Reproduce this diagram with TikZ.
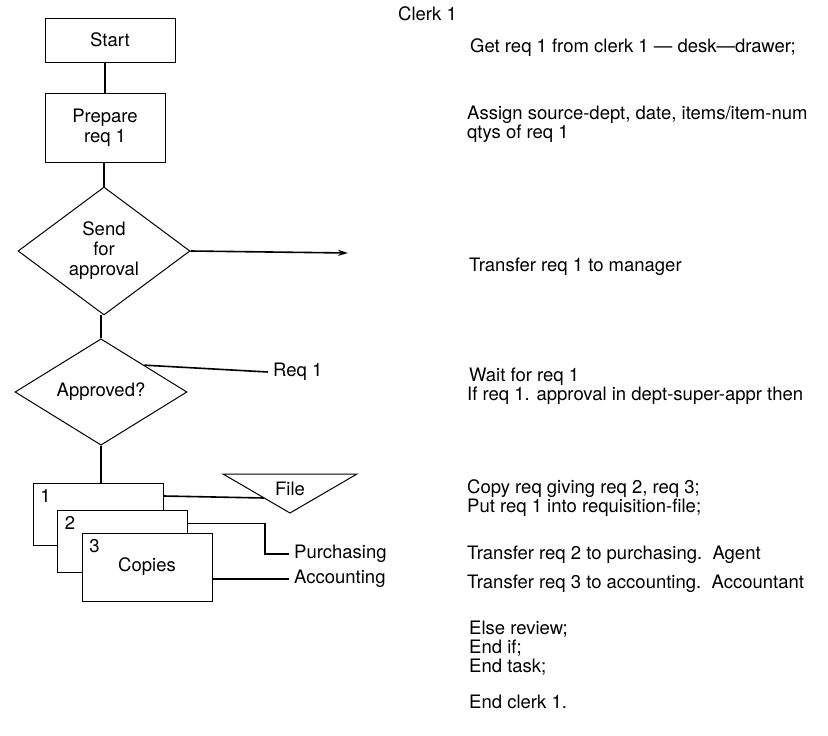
\documentclass[tikz,border=0pt]{standalone}
\usepackage{fontspec}
\setmainfont{TeX Gyre Heros}
\usetikzlibrary{positioning, shapes.geometric, arrows.meta}

\begin{document}
\begin{tikzpicture}[
    x = 1pt, y = -1pt,
    font = \fontsize{18.5pt}{20pt}\selectfont,
    box/.style = {rectangle, draw, line width=1pt, align=center, inner sep=0pt},
    decision/.style = {diamond, draw, line width=1pt, align=center, inner sep=0pt, minimum width=172pt, minimum height=102pt},
    copy/.style = {rectangle, draw, line width=1pt, fill=white, minimum width=130pt, minimum height=62pt, inner sep=0pt},
    tag/.style = {anchor=center, inner sep=0pt},
    dest/.style = {anchor=west, inner sep=5pt},
    stmt/.style = {anchor=base west, inner sep=0pt},
    link/.style = {line width=1.6pt}
]
\useasboundingbox (0,0) rectangle (828,736);

% Clerk 1 flow chart
    \node[box, minimum width=130pt, minimum height=44pt] (start) at (110,40) {Start};
    \node[box, minimum width=120pt, minimum height=69pt] (prep) at (105,128) {Prepare\\req 1};
    \node[decision] (send) at (104,251) {Send\\for\\approval};
    \coordinate (mgr) at (348,253);
    \node[decision] (appr) at (101,392) {Approved?};
    \node[dest] (req1) at (268,372) {Req 1};

% Copies
    \node[copy, label={[tag, xshift=13pt, yshift=-13pt]north west:1}] (card1) at (98,514.5) {};
    \node[copy, label={[tag, xshift=13pt, yshift=-13pt]north west:2}] (card2) at (122.5,541) {};
    \node[copy, minimum height=68pt, label={[tag, xshift=13pt, yshift=-14pt]north west:3}] (card3) at (147,567) {Copies};

% File
    \coordinate (fileA) at (223,474);
    \coordinate (fileB) at (357,474);
    \coordinate (fileC) at (290,513);
    \coordinate (filein) at (264,498);
    \draw[line width=1pt] (fileA) -- (fileB) -- (fileC) -- cycle;
    \node[tag] (file) at (290,489) {File};
    \node[dest] (purch) at (289,554) {Purchasing};
    \node[dest] (acct) at (289,579) {Accounting};

% Connectors
    \draw[link] (prep.north) -- (prep.north |- start.south);
    \draw[link] (send.north) -- (send.north |- prep.south);
    \draw[link, -{Stealth[length=10pt, width=6pt]}] (send.east) -- (mgr);
    \draw[link] (appr.north) -- (appr.north |- send.south);
    \draw[link] (appr.north east) -- (req1.west);
    \draw[link] (appr.south) -- (appr.south |- card1.north);
    \draw[link] ([yshift=-13pt]card1.north east) -- (filein);
    \draw[link] ([yshift=-14pt]card2.north east) -- ++(77,0) |- (purch.west);
    \draw[link] (acct.west) -- (acct.west -| card3.east);

% Task text
    \node[stmt] (title) at (398,20) {Clerk 1};
    \node[stmt] (get) at (470,52) {Get req 1 from clerk 1 --- desk---drawer;};
    \node[stmt] (assign) at (467,119) {Assign source-dept, date, items/item-num};
    \node[stmt] (qtys) at (467,138) {qtys of req 1};
    \node[stmt] (xfer1) at (469,271) {Transfer req 1 to manager};
    \node[stmt] (wait) at (469,381) {Wait for req 1};
    \node[stmt] (if) at (467,400) {If req 1. approval in dept-super-appr then};
    \node[stmt] (copyreq) at (467,493) {Copy req giving req 2, req 3;};
    \node[stmt] (put) at (467,512) {Put req 1 into requisition-file;};
    \node[stmt] (xfer2) at (467,559) {Transfer req 2 to purchasing.\ \ Agent};
    \node[stmt] (xfer3) at (467,588) {Transfer req 3 to accounting.\ \ Accountant};
    \node[stmt] (else) at (469,634) {Else review;};
    \node[stmt] (endif) at (469,653) {End if;};
    \node[stmt] (endtask) at (469,672) {End task;};
    \node[stmt] (endclerk) at (469,708) {End clerk 1.};
\end{tikzpicture}
\end{document}
